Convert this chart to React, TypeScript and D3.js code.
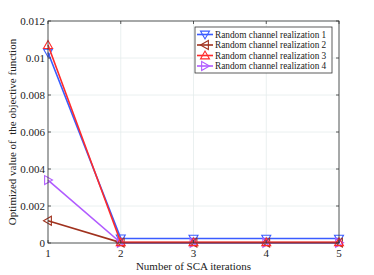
import React from "react";
import * as d3 from "d3";

const iterations = [1, 2, 3, 4, 5];
const realization1 = [0.0103, 0.00025, 0.00024, 0.00024, 0.00024];
const realization2 = [0.0012, 0.00002, 0.00002, 0.00002, 0.00002];
const realization3 = [0.0107, 0.00004, 0.00004, 0.00004, 0.00004];
const realization4 = [0.0034, 0.00001, 0.00001, 0.00001, 0.00001];
const yTicks = [0, 0.002, 0.004, 0.006, 0.008, 0.01, 0.012];
const yTickLabels = ["0", "0.002", "0.004", "0.006", "0.008", "0.01", "0.012"];
const seriesNames = [
  "Random channel realization 1",
  "Random channel realization 2",
  "Random channel realization 3",
  "Random channel realization 4",
];
const seriesColors = ["#3a5cff", "#a0321e", "#ff2b2b", "#b15cff"];
const seriesMarkers = ["down", "left", "up", "right"];

const W = 374;
const H = 275;
const margin = { top: 21, right: 35, bottom: 32, left: 48 };
const font = "'Liberation Serif', 'Times New Roman', serif";

function Marker({ kind, x, y, color }: { kind: string; x: number; y: number; color: string }) {
  const s = 4.5;
  let pts: number[][] = [];
  if (kind === "down") pts = [[-s, -s * 0.75], [s, -s * 0.75], [0, s]];
  if (kind === "up") pts = [[-s, s * 0.75], [s, s * 0.75], [0, -s]];
  if (kind === "left") pts = [[s * 0.75, -s], [s * 0.75, s], [-s, 0]];
  if (kind === "right") pts = [[-s * 0.75, -s], [-s * 0.75, s], [s, 0]];
  return (
    <polygon
      points={pts.map(p => `${x + p[0]},${y + p[1]}`).join(" ")}
      fill="none"
      stroke={color}
      strokeWidth={1.1}
    />
  );
}

export default function App() {
  const innerW = W - margin.left - margin.right;
  const innerH = H - margin.top - margin.bottom;
  const x = d3.scaleLinear().domain([1, 5]).range([margin.left, margin.left + innerW]);
  const y = d3.scaleLinear().domain([0, 0.012]).range([margin.top + innerH, margin.top]);
  const allSeries = [realization1, realization2, realization3, realization4];
  const line = d3.line<number>().x((_, i) => x(iterations[i])).y(d => y(d));

  const x0 = margin.left, x1 = margin.left + innerW;
  const y0 = margin.top + innerH, y1 = margin.top;

  // draw order: 1 blue, 2 brown, 4 purple, 3 red on top
  const order = [0, 1, 3, 2];

  return (
    <svg width={W} height={H} style={{ position: "absolute", left: 0, top: 0 }}>
      <rect x={0} y={0} width={W} height={H} fill="#fff" />
      {/* grid */}
      {iterations.map(t => (
        <line key={"gx" + t} x1={x(t)} x2={x(t)} y1={y0} y2={y1} stroke="#e4ecec" strokeWidth={0.8} />
      ))}
      {yTicks.map(t => (
        <line key={"gy" + t} x1={x0} x2={x1} y1={y(t)} y2={y(t)} stroke="#e4ecec" strokeWidth={0.8} />
      ))}
      {/* series */}
      {order.map(si => (
        <g key={"s" + si}>
          <path d={line(allSeries[si]) || ""} fill="none" stroke={seriesColors[si]} strokeWidth={1.6} />
          {allSeries[si].map((v, i) => (
            <Marker key={i} kind={seriesMarkers[si]} x={x(iterations[i])} y={y(v)} color={seriesColors[si]} />
          ))}
        </g>
      ))}
      {/* axes box */}
      <rect x={x0} y={y1} width={innerW} height={innerH} fill="none" stroke="#333" strokeWidth={0.8} />
      {iterations.map(t => (
        <g key={"tx" + t}>
          <line x1={x(t)} x2={x(t)} y1={y0} y2={y0 - 3} stroke="#333" strokeWidth={0.8} />
          <line x1={x(t)} x2={x(t)} y1={y1} y2={y1 + 3} stroke="#333" strokeWidth={0.8} />
          <text x={x(t)} y={y0 + 14} textAnchor="middle" fontFamily={font} fontSize={11} fill="#222">{t}</text>
        </g>
      ))}
      {yTicks.map((t, i) => (
        <g key={"ty" + t}>
          <line x1={x0} x2={x0 + 3} y1={y(t)} y2={y(t)} stroke="#333" strokeWidth={0.8} />
          <line x1={x1} x2={x1 - 3} y1={y(t)} y2={y(t)} stroke="#333" strokeWidth={0.8} />
          <text x={x0 - 3} y={y(t) + 4} textAnchor="end" fontFamily={font} fontSize={11} fill="#222">{yTickLabels[i]}</text>
        </g>
      ))}
      {/* axis labels */}
      <text x={(x0 + x1) / 2} y={270} textAnchor="middle" fontFamily={font} fontSize={11} fill="#222">
        Number of SCA iterations
      </text>
      <text
        transform={`translate(16,${(y0 + y1) / 2}) rotate(-90)`}
        textAnchor="middle"
        fontFamily={font}
        fontSize={11}
        fill="#222"
        style={{ whiteSpace: "pre" }}
      >
        Optimized value of  the objective function
      </text>
      {/* legend */}
      <g>
        <rect x={195} y={27} width={137} height={46} fill="#fff" stroke="#333" strokeWidth={0.8} />
        {seriesNames.map((n, i) => {
          const ly = 34.5 + i * 10.5;
          return (
            <g key={"lg" + i}>
              <line x1={197} x2={213} y1={ly} y2={ly} stroke={seriesColors[i]} strokeWidth={1.6} />
              <Marker kind={seriesMarkers[i]} x={205} y={ly} color={seriesColors[i]} />
              <text x={215} y={ly + 3.2} fontFamily={font} fontSize={9.3} fill="#222">{n}</text>
            </g>
          );
        })}
      </g>
    </svg>
  );
}
